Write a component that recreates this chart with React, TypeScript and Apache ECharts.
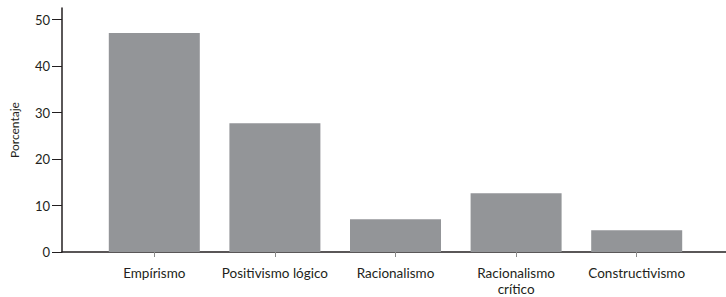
import React, { useEffect, useRef } from "react";
import * as echarts from "echarts";

const categories = ["Empírismo", "Positivismo lógico", "Racionalismo", "Racionalismo\ncrítico", "Constructivismo"];
const values = [47.1, 27.7, 7.05, 12.65, 4.7];
const yTicks = [0, 10, 20, 30, 40, 50];
const yName = "Porcentaje";

const FONT = "Lato";
const TEXT = "#231f20";

export default function App() {
  const ref = useRef<HTMLDivElement>(null);
  useEffect(() => {
    document.body.style.margin = "0";
    if (!ref.current) return;
    const chart = echarts.init(ref.current, null, { renderer: "svg" });
    chart.setOption({
      animation: false,
      backgroundColor: "#ffffff",
      grid: [
        { left: 59, right: 0, top: 8, bottom: 45 },
        { left: 94, right: 29, top: 8, bottom: 45 },
      ],
      xAxis: [
        {
          type: "category",
          gridIndex: 0,
          data: [""],
          axisLine: { show: true, lineStyle: { color: TEXT, width: 1.5 } },
          axisTick: { show: false },
          axisLabel: { show: false },
        },
        {
          type: "category",
          gridIndex: 1,
          data: categories,
          axisLine: { show: false },
          axisTick: { show: true, alignWithLabel: true, length: 5, lineStyle: { color: "#8a8a8a", width: 1 } },
          axisLabel: {
            color: TEXT,
            fontFamily: FONT,
            fontSize: 13.5,
            lineHeight: 16,
            margin: 13,
            interval: 0,
          },
        },
      ],
      yAxis: [
        {
          type: "value",
          gridIndex: 0,
          min: 0,
          max: 52.5,
          interval: 10,
          name: yName,
          nameLocation: "middle",
          nameGap: 42,
          nameTextStyle: { color: TEXT, fontFamily: FONT, fontSize: 12 },
          axisLine: { show: true, lineStyle: { color: TEXT, width: 1.5 } },
          axisTick: { show: true, length: 10, customValues: yTicks, lineStyle: { color: TEXT, width: 1 } },
          axisLabel: { color: TEXT, fontFamily: FONT, fontSize: 13, margin: 12, customValues: yTicks },
          splitLine: { show: false },
        },
        {
          type: "value",
          gridIndex: 1,
          min: 0,
          max: 52.5,
          show: false,
          splitLine: { show: false },
        },
      ],
      series: [
        {
          type: "bar",
          xAxisIndex: 1,
          yAxisIndex: 1,
          data: values,
          barWidth: 91,
          itemStyle: { color: "#939598" },
        },
      ],
    });
    return () => chart.dispose();
  }, []);
  return <div ref={ref} style={{ width: 726, height: 297 }} />;
}
